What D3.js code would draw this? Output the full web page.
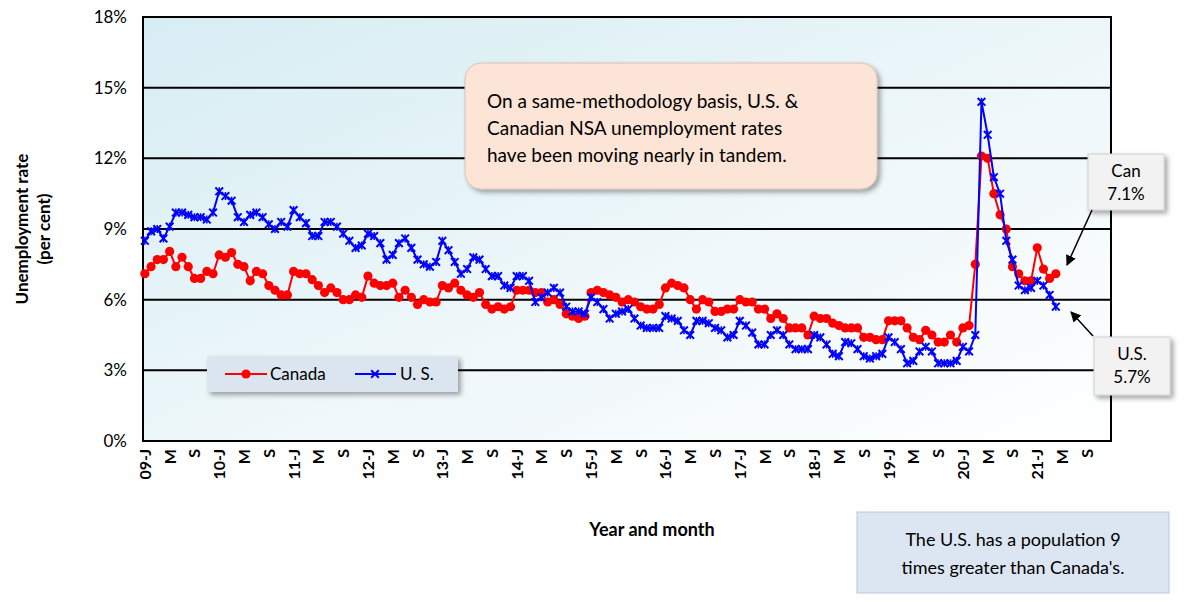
<!DOCTYPE html>
<html>
<head>
<meta charset="utf-8">
<script src="https://cdn.jsdelivr.net/npm/d3@7"></script>
<style>
  body { margin: 0; background: #fff; }
  text { font-family: Lato, "Open Sans", sans-serif; }
</style>
</head>
<body>
<svg id="chart" width="1200" height="602"></svg>
<script>
// monthly NSA rates, Jan 2009 .. Apr 2021
const canada = [
  7.1,7.4,7.7,7.7,8.05,7.4,7.8,7.4,6.9,6.9,7.2,7.1,
  7.9,7.8,8.0,7.5,7.4,6.8,7.2,7.1,6.6,6.4,6.2,6.2,
  7.2,7.1,7.1,6.85,6.6,6.3,6.5,6.3,6.0,6.0,6.2,6.1,
  7.0,6.7,6.6,6.6,6.7,6.1,6.4,6.1,5.8,6.0,5.9,5.9,
  6.6,6.5,6.7,6.4,6.2,6.1,6.3,5.8,5.6,5.7,5.6,5.7,
  6.4,6.4,6.4,6.3,6.3,5.9,6.0,5.8,5.4,5.3,5.2,5.3,
  6.3,6.4,6.3,6.2,6.1,5.9,6.0,5.9,5.7,5.6,5.6,5.8,
  6.5,6.7,6.6,6.5,6.0,5.6,6.0,5.9,5.5,5.5,5.6,5.6,
  6.0,5.9,5.9,5.6,5.6,5.2,5.4,5.2,4.8,4.8,4.8,4.5,
  5.3,5.2,5.2,5.0,4.9,4.8,4.8,4.8,4.4,4.4,4.3,4.3,
  5.1,5.1,5.1,4.8,4.4,4.3,4.7,4.5,4.2,4.2,4.5,4.2,
  4.8,4.9,7.5,12.1,12.0,10.5,9.6,9.0,7.4,7.1,6.8,6.8,
  8.2,7.3,6.9,7.1
];
const us = [
  8.5,8.9,9.0,8.6,9.1,9.7,9.7,9.6,9.5,9.5,9.4,9.7,
  10.6,10.4,10.2,9.5,9.3,9.6,9.7,9.5,9.2,9.0,9.3,9.1,
  9.8,9.5,9.25,8.7,8.7,9.3,9.3,9.1,8.8,8.5,8.2,8.3,
  8.8,8.7,8.4,7.7,7.9,8.4,8.6,8.2,7.7,7.5,7.4,7.6,
  8.5,8.1,7.6,7.1,7.3,7.8,7.7,7.3,7.0,7.0,6.6,6.5,
  7.0,7.0,6.8,5.9,6.1,6.3,6.5,6.3,5.7,5.5,5.5,5.4,
  6.1,5.9,5.6,5.2,5.4,5.5,5.6,5.2,4.9,4.8,4.8,4.8,
  5.3,5.2,5.1,4.7,4.5,5.1,5.1,5.0,4.8,4.7,4.4,4.5,
  5.1,4.9,4.6,4.1,4.1,4.5,4.7,4.5,4.1,3.9,3.9,3.9,
  4.5,4.4,4.1,3.7,3.6,4.2,4.15,3.9,3.6,3.5,3.6,3.7,
  4.4,4.2,3.9,3.3,3.4,3.8,4.0,3.8,3.3,3.3,3.3,3.4,
  4.0,3.8,4.5,14.4,13.0,11.2,10.5,8.5,7.7,6.6,6.4,6.5,
  6.8,6.6,6.2,5.7
];
const years = ["09","10","11","12","13","14","15","16","17","18","19","20","21"];
const monthLetters = ["J","M","S"];
const yTicks = [0, 3, 6, 9, 12, 15, 18];

const svg = d3.select("#chart");
const plotLeft = 143, plotRight = 1111, plotTop = 17, plotBottom = 441;

const x = d3.scaleLinear().domain([-0.3, 155.9]).range([plotLeft, plotRight]);
const y = d3.scaleLinear().domain([0, 18]).range([plotBottom, plotTop]);

// background gradient + shadow
const defs = svg.append("defs");
const grad = defs.append("linearGradient").attr("id", "bg")
  .attr("x1", "0").attr("y1", "0").attr("x2", "1").attr("y2", "1");
grad.append("stop").attr("offset", "0").attr("stop-color", "#d6edf3");
grad.append("stop").attr("offset", "0.55").attr("stop-color", "#eef7fa");
grad.append("stop").attr("offset", "1").attr("stop-color", "#ffffff");
const sh = defs.append("filter").attr("id", "shadow").attr("x", "-10%").attr("y", "-10%").attr("width", "130%").attr("height", "140%");
sh.append("feDropShadow").attr("dx", 3).attr("dy", 3).attr("stdDeviation", 2.5).attr("flood-color", "#000").attr("flood-opacity", 0.35);

svg.append("rect").attr("x", plotLeft).attr("y", plotTop).attr("width", plotRight - plotLeft).attr("height", plotBottom - plotTop)
  .attr("fill", "url(#bg)");

// gridlines
svg.append("g").selectAll("line").data(yTicks.filter(d => d > 0 && d < 18)).join("line")
  .attr("x1", plotLeft).attr("x2", plotRight).attr("y1", d => y(d)).attr("y2", d => y(d))
  .attr("stroke", "#000").attr("stroke-width", 2);

// frame
svg.append("rect").attr("x", plotLeft).attr("y", plotTop).attr("width", plotRight - plotLeft).attr("height", plotBottom - plotTop)
  .attr("fill", "none").attr("stroke", "#000").attr("stroke-width", 2);

// y axis labels
svg.append("g").selectAll("text").data(yTicks).join("text")
  .attr("x", 127).attr("y", d => y(d) + 6).attr("text-anchor", "end")
  .attr("font-size", 17).attr("fill", "#000").text(d => d + "%");

// x tick labels
const xTicks = [];
years.forEach((yr, i) => {
  monthLetters.forEach((m, j) => {
    xTicks.push({ m: i * 12 + j * 4, label: j === 0 ? yr + "-" + m : m });
  });
});
svg.append("g").selectAll("text").data(xTicks).join("text")
  .attr("transform", d => `translate(${x(d.m) + 6},${plotBottom + 8}) rotate(-90)`)
  .attr("text-anchor", "end").attr("font-size", 16).attr("font-weight", "bold")
  .attr("fill", "#000").text(d => d.label);

// axis titles
svg.append("text").attr("transform", "translate(28,229) rotate(-90)").attr("text-anchor", "middle")
  .attr("font-size", 17).attr("font-weight", "bold").text("Unemployment rate");
svg.append("text").attr("transform", "translate(50,229) rotate(-90)").attr("text-anchor", "middle")
  .attr("font-size", 17).attr("font-weight", "bold").text("(per cent)");
svg.append("text").attr("x", 652).attr("y", 536).attr("text-anchor", "middle")
  .attr("font-size", 18).attr("font-weight", "bold").text("Year and month");

// series
const line = d3.line().x((d, i) => x(i)).y(d => y(d));
svg.append("path").datum(canada).attr("d", line).attr("fill", "none").attr("stroke", "#ff0000").attr("stroke-width", 2);
svg.append("g").selectAll("circle").data(canada).join("circle")
  .attr("cx", (d, i) => x(i)).attr("cy", d => y(d)).attr("r", 4.6).attr("fill", "#ff0000");

svg.append("path").datum(us).attr("d", line).attr("fill", "none").attr("stroke", "#0000ff").attr("stroke-width", 2);
const star = d3.symbol().type(d3.symbolX).size(40);
svg.append("g").selectAll("path").data(us).join("path")
  .attr("transform", (d, i) => `translate(${x(i)},${y(d)})`).attr("d", star)
  .attr("fill", "none").attr("stroke", "#0000ff").attr("stroke-width", 2);
svg.append("g").selectAll("line").data(us).join("line")
  .attr("x1", (d, i) => x(i)).attr("x2", (d, i) => x(i))
  .attr("y1", d => y(d) - 4).attr("y2", d => y(d) + 4)
  .attr("stroke", "#0000ff").attr("stroke-width", 1.5);

// legend
const lg = svg.append("g").attr("transform", "translate(207,356)");
lg.append("rect").attr("width", 251).attr("height", 36).attr("fill", "#dbe5f0").attr("filter", "url(#shadow)");
lg.append("line").attr("x1", 18).attr("x2", 60).attr("y1", 18).attr("y2", 18).attr("stroke", "#ff0000").attr("stroke-width", 2);
lg.append("circle").attr("cx", 39).attr("cy", 18).attr("r", 4.6).attr("fill", "#ff0000");
lg.append("text").attr("x", 63).attr("y", 24).attr("font-size", 17).text("Canada");
lg.append("line").attr("x1", 148).attr("x2", 189).attr("y1", 18).attr("y2", 18).attr("stroke", "#0000ff").attr("stroke-width", 2);
lg.append("path").attr("transform", "translate(168,18)").attr("d", star).attr("fill", "none").attr("stroke", "#0000ff").attr("stroke-width", 2);
lg.append("text").attr("x", 193).attr("y", 24).attr("font-size", 17).text("U. S.");

// main callout
const cb = svg.append("g").attr("transform", "translate(465,63)");
cb.append("rect").attr("width", 412).attr("height", 126).attr("rx", 16)
  .attr("fill", "#fce4d6").attr("stroke", "#d9c3b5").attr("filter", "url(#shadow)");
["On a same-methodology basis, U.S. &", "Canadian NSA unemployment rates", "have been moving nearly in tandem."]
  .forEach((t, i) => cb.append("text").attr("x", 22).attr("y", 45 + i * 27).attr("font-size", 19).text(t));

// end labels
function endLabel(bx, by, w, h, lines) {
  const g = svg.append("g").attr("transform", `translate(${bx},${by})`);
  g.append("rect").attr("width", w).attr("height", h).attr("fill", "#f2f2f2").attr("stroke", "#d0d0d0").attr("filter", "url(#shadow)");
  lines.forEach((t, i) => g.append("text").attr("x", w / 2).attr("y", 23 + i * 23).attr("text-anchor", "middle").attr("font-size", 17).text(t));
}
endLabel(1088, 154, 76, 56, ["Can", canada[canada.length - 1].toFixed(1) + "%"]);
endLabel(1094, 337, 76, 58, ["U.S.", us[us.length - 1].toFixed(1) + "%"]);

defs.append("marker").attr("id", "arr").attr("viewBox", "0 0 10 10").attr("refX", 9).attr("refY", 5)
  .attr("markerWidth", 7).attr("markerHeight", 7).attr("orient", "auto")
  .append("path").attr("d", "M0,0 L10,5 L0,10 z").attr("fill", "#000");
svg.append("line").attr("x1", 1092).attr("y1", 210).attr("x2", 1067).attr("y2", 265)
  .attr("stroke", "#000").attr("stroke-width", 1.5).attr("marker-end", "url(#arr)");
svg.append("line").attr("x1", 1093).attr("y1", 336).attr("x2", 1071).attr("y2", 312)
  .attr("stroke", "#000").attr("stroke-width", 1.5).attr("marker-end", "url(#arr)");

// population note
const nb = svg.append("g").attr("transform", "translate(857,512)");
nb.append("rect").attr("width", 312).attr("height", 81).attr("fill", "#dce6f2").attr("stroke", "#b8c7d9");
nb.append("text").attr("x", 156).attr("y", 34).attr("text-anchor", "middle").attr("font-size", 18).text("The U.S. has a population 9");
nb.append("text").attr("x", 156).attr("y", 62).attr("text-anchor", "middle").attr("font-size", 18).text("times greater than Canada's.");
</script>
</body>
</html>
